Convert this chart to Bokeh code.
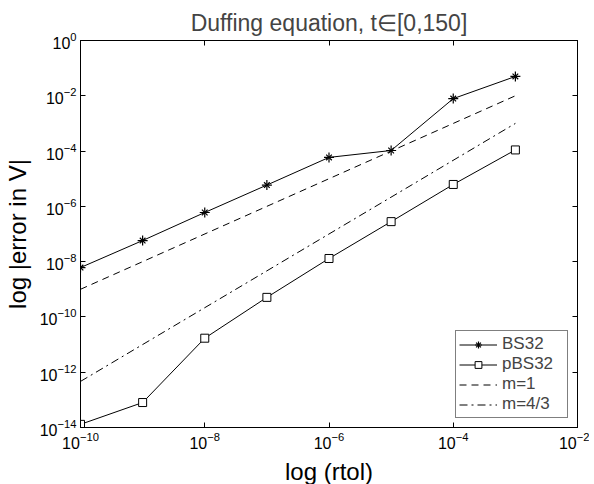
from bokeh.plotting import figure
from bokeh.models import LogAxis, FixedTicker, Legend, LegendItem, Range1d
from bokeh.embed import file_html
from bokeh.resources import INLINE

# data
rtol = [1e-10, 1e-9, 1e-8, 1e-7, 1e-6, 1e-5, 1e-4, 1e-3]
bs32 = [6.1e-9, 5.8e-8, 6.0e-7, 5.9e-6, 5.9e-5, 1.05e-4, 7.9e-3, 5.0e-2]
pbs32 = [1.3e-14, 8.0e-14, 1.7e-11, 5.1e-10, 1.3e-8, 2.8e-7, 6.2e-6, 1.1e-4]
ref_x = [1e-10, 1e-3]
ref_m1 = [1e-9, 1e-2]
ref_m43 = [10 ** -12.333, 1e-3]

x_ticks = [1e-10, 1e-8, 1e-6, 1e-4, 1e-2]
y_ticks = [1e-14, 1e-12, 1e-10, 1e-8, 1e-6, 1e-4, 1e-2, 1e0]

FONT = "Liberation Sans"

p = figure(x_axis_type="log", y_axis_type="log",
           frame_width=497, frame_height=387,
           x_range=Range1d(1e-10, 1e-2), y_range=Range1d(1e-14, 1e0),
           output_backend="svg", toolbar_location=None,
           title="Duffing equation, t∈[0,150]",
           min_border_left=79, min_border_right=12, min_border_top=40, min_border_bottom=50)
p.title.align = "center"
p.title.text_font = FONT
p.title.text_font_size = "23px"
p.title.text_font_style = "normal"
p.title.offset = 0
p.title.standoff = 10
p.xgrid.visible = False
p.ygrid.visible = False
p.outline_line_color = "black"
p.outline_line_width = 1
p.background_fill_color = "white"
p.border_fill_color = "white"

def style(ax, ticks):
    ax.ticker = FixedTicker(ticks=ticks, minor_ticks=[])
    ax.major_tick_in = 5
    ax.major_tick_out = 0
    ax.minor_tick_in = 0
    ax.minor_tick_out = 0
    ax.axis_line_color = "black"
    ax.major_tick_line_color = "black"
    ax.major_label_text_font = FONT
    ax.major_label_text_font_size = "16px"
    ax.major_label_text_color = "black"
    ax.axis_label_text_font = FONT
    ax.axis_label_text_font_size = "24px"
    ax.axis_label_text_font_style = "normal"
    ax.axis_label_text_color = "black"

style(p.xaxis[0], x_ticks)
style(p.yaxis[0], y_ticks)
p.xaxis[0].axis_label = "log (rtol)"
p.yaxis[0].axis_label = "log |error in V|"
p.xaxis[0].major_label_standoff = 4
p.yaxis[0].major_label_standoff = 4
p.xaxis[0].axis_label_standoff = 6
p.yaxis[0].axis_label_standoff = 6

top = LogAxis()
right = LogAxis()
style(top, x_ticks)
style(right, y_ticks)
top.major_label_overrides = {t: "" for t in x_ticks}
right.major_label_overrides = {t: "" for t in y_ticks}
top.major_label_standoff = 0
right.major_label_standoff = 0
p.add_layout(top, "above")
p.add_layout(right, "right")

l1 = p.line(rtol, bs32, line_color="black", line_width=1)
s1a = p.scatter(rtol, bs32, marker="cross", size=10, line_color="black", line_width=1.2)
s1b = p.scatter(rtol, bs32, marker="x", size=8, line_color="black", line_width=1.2)
l2 = p.line(rtol, pbs32, line_color="black", line_width=1)
s2 = p.scatter(rtol, pbs32, marker="square", size=8, line_color="black", fill_color="white", line_width=1)
l3 = p.line(ref_x, ref_m1, line_color="black", line_width=1, line_dash="7 5")
l4 = p.line(ref_x, ref_m43, line_color="black", line_width=1, line_dash="8 4 2 4")

legend = Legend(items=[
    LegendItem(label="BS32", renderers=[l1, s1a, s1b]),
    LegendItem(label="pBS32", renderers=[l2, s2]),
    LegendItem(label="m=1", renderers=[l3]),
    LegendItem(label="m=4/3", renderers=[l4]),
], location="bottom_right")
legend.border_line_color = "black"
legend.border_line_width = 1
legend.background_fill_alpha = 1
legend.label_text_font = FONT
legend.label_text_font_size = "17px"
legend.glyph_width = 38
legend.glyph_height = 17
legend.label_height = 17
legend.label_width = 62
legend.spacing = 0
legend.padding = 3
legend.margin = 9
legend.label_standoff = 5
p.add_layout(legend)

open("out.html", "w").write(file_html(p, INLINE))
